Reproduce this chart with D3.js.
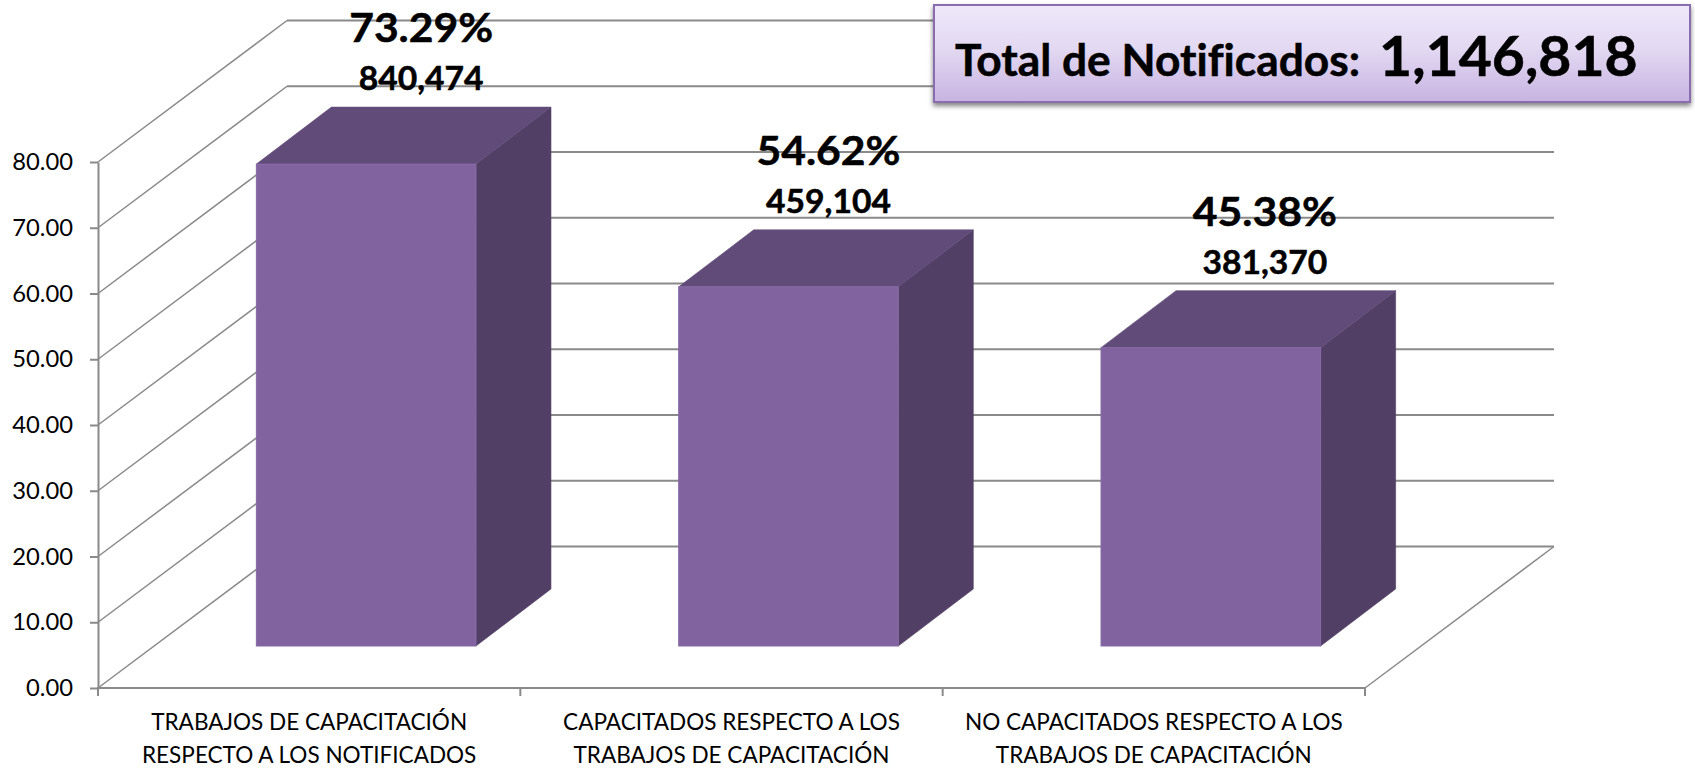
<!DOCTYPE html>
<html><head><meta charset="utf-8">
<script src="https://cdn.jsdelivr.net/npm/d3@7"></script>
<style>
html,body{margin:0;padding:0;background:#fff;overflow:hidden}
svg{display:block}
text{font-family:Lato,"Open Sans",sans-serif;fill:#000;font-variant-ligatures:none}
</style></head><body>
<div id="chart"></div>
<script>
const categories = ["TRABAJOS DE CAPACITACIÓN|RESPECTO A LOS NOTIFICADOS","CAPACITADOS RESPECTO A LOS|TRABAJOS DE CAPACITACIÓN","NO CAPACITADOS RESPECTO A LOS|TRABAJOS DE CAPACITACIÓN"];
const percentValues = [73.29, 54.62, 45.38];
const countLabels = ["840,474", "459,104", "381,370"];
const yTicks = [0,10,20,30,40,50,60,70,80];
const totalLabel = "Total de Notificados:";
const totalValue = "1,146,818";

const W=1695,H=768;
const left=98,right=1365,y0=688,y80=162;
const wallDx=189,wallDy=141.5;
const barOffX=57,barOffY=42,barDx=75,barDy=57;
const labelShift=[0,-15,-1];
const C={grid:"#8a8a8a",front:"#80639f",frontEdge:"#8769a6",top:"#614b79",side:"#523f66"};

const svg=d3.select("#chart").append("svg").attr("width",W).attr("height",H);
const defs=svg.append("defs");
const grad=defs.append("linearGradient").attr("id","boxFill").attr("x1",0).attr("y1",0).attr("x2",0).attr("y2",1);
grad.append("stop").attr("offset","0").attr("stop-color","#eee8f9");
grad.append("stop").attr("offset",".45").attr("stop-color","#e3d9f2");
grad.append("stop").attr("offset","1").attr("stop-color","#c7b3e1");
const sh=defs.append("filter").attr("id","boxShadow").attr("x","-5%").attr("y","-10%").attr("width","110%").attr("height","125%");
sh.append("feDropShadow").attr("dx",0).attr("dy",3).attr("stdDeviation",2.5).attr("flood-color","#000").attr("flood-opacity",.5);

const y=d3.scaleLinear().domain([0,80]).range([y0,y80]);
const x=d3.scaleBand().domain(categories).range([left,right]).paddingInner(.48).paddingOuter(.24);
const labelX=d3.scaleBand().domain(categories).range([left,right]);

function fit(sel,ratio){sel.each(function(){
  const l=this.getComputedTextLength();
  d3.select(this).attr("textLength",l*ratio).attr("lengthAdjust","spacingAndGlyphs");
});}
function heavy(sel,w){sel.attr("stroke","#000").attr("stroke-width",w).attr("paint-order","stroke");}

// walls and gridlines: diagonal thinner, back wall heavier
const gridG=svg.append("g").attr("fill","none").attr("stroke",C.grid);
gridG.selectAll("path.d").data(yTicks).join("path").attr("class","d").attr("stroke-width",1.5)
  .attr("d",d=>d3.line()([[left,y(d)],[left+wallDx,y(d)-wallDy]]));
gridG.selectAll("path.h").data(yTicks).join("path").attr("class","h").attr("stroke-width",2)
  .attr("d",d=>d3.line()([[left+wallDx,y(d)-wallDy],[right+wallDx,y(d)-wallDy]]));
gridG.append("path").attr("stroke-width",1.5)
  .attr("d",d3.line()([[right+wallDx,y0-wallDy],[right,y0]]));

// y axis
const yAxis=svg.append("g").attr("transform",`translate(${left},0)`)
  .call(d3.axisLeft(y).tickValues(yTicks).tickFormat(d3.format(".2f")).tickSize(8).tickSizeOuter(0).tickPadding(17));
yAxis.selectAll("path,line").attr("stroke",C.grid).attr("stroke-width",2);
yAxis.selectAll("text").attr("font-size",24).attr("font-family","Lato").call(fit,.99);

// x axis
const xAxis=svg.append("g").attr("transform",`translate(0,${y0})`);
xAxis.append("line").attr("x1",left-1).attr("x2",right).attr("stroke",C.grid).attr("stroke-width",2);
xAxis.selectAll("line.t").data(d3.range(categories.length+1)).join("line").attr("class","t")
  .attr("x1",i=>left+i*labelX.step()).attr("x2",i=>left+i*labelX.step())
  .attr("y1",0).attr("y2",8).attr("stroke",C.grid).attr("stroke-width",2);
categories.forEach(c=>{
  c.split("|").forEach((line,i)=>{
    svg.append("text").attr("x",labelX(c)+labelX.bandwidth()/2).attr("y",730+i*33)
      .attr("text-anchor","middle").attr("font-size",23).text(line).call(fit,.98);
  });
});

// bars
const bars=svg.append("g").selectAll("g").data(categories).join("g");
const bl=(c)=>x(c)+barOffX, br=(c)=>x(c)+barOffX+x.bandwidth();
const bt=(i)=>y(percentValues[i])-barOffY, bb=()=>y0-barOffY;
bars.append("path").attr("fill",C.side).attr("stroke",C.side).attr("stroke-width",.6)
  .attr("d",(c,i)=>d3.line()([[br(c),bt(i)],[br(c)+barDx,bt(i)-barDy],[br(c)+barDx,bb()-barDy],[br(c),bb()]])+"Z");
bars.append("path").attr("fill",C.top).attr("stroke",C.top).attr("stroke-width",.6)
  .attr("d",(c,i)=>d3.line()([[bl(c),bt(i)],[bl(c)+barDx,bt(i)-barDy],[br(c)+barDx,bt(i)-barDy],[br(c),bt(i)]])+"Z");
bars.append("rect").attr("fill",C.front).attr("stroke",C.frontEdge).attr("stroke-width",1)
  .attr("x",c=>bl(c)).attr("width",x.bandwidth()).attr("y",(c,i)=>bt(i)).attr("height",(c,i)=>bb()-bt(i));

// data labels
categories.forEach((c,i)=>{
  const cx=(bl(c)+br(c))/2+55+labelShift[i];
  svg.append("text").attr("x",cx).attr("y",bt(i)-122).attr("text-anchor","middle")
    .attr("font-size",41).attr("font-weight",700).text(d3.format(".2f")(percentValues[i])+"%").call(fit,1.04).call(heavy,.5);
  svg.append("text").attr("x",cx).attr("y",bt(i)-74).attr("text-anchor","middle")
    .attr("font-size",32).attr("font-weight",700).text(countLabels[i]).call(fit,1.05).call(heavy,.5);
});

// total box
svg.append("rect").attr("x",934).attr("y",5).attr("width",756).attr("height",97)
  .attr("fill","url(#boxFill)").attr("stroke","#8a6dae").attr("stroke-width",2).attr("filter","url(#boxShadow)");
svg.append("text").attr("x",955).attr("y",76).attr("font-size",43).attr("font-weight",700).text(totalLabel).call(fit,1.03).call(heavy,.5);
svg.append("text").attr("x",1379).attr("y",76).attr("font-size",56).attr("font-weight",700).text(totalValue).call(fit,1.02).call(heavy,.5);
</script>
</body></html>
